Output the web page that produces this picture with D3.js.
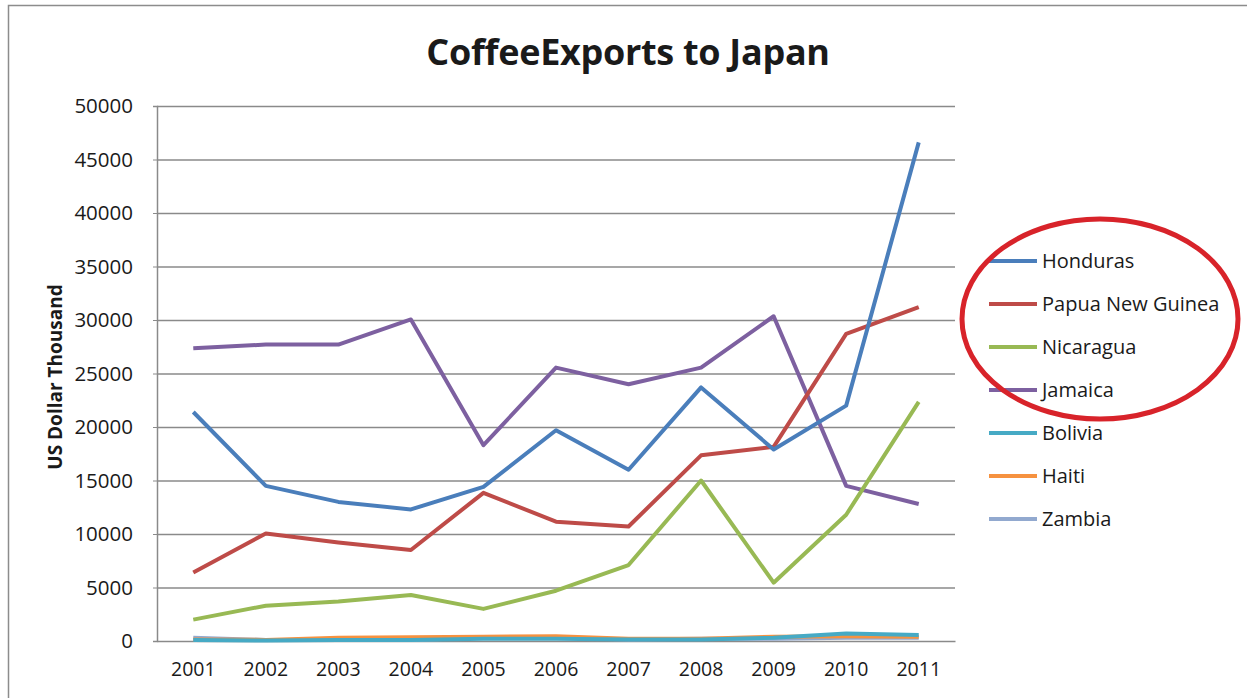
<!DOCTYPE html>
<html>
<head>
<meta charset="utf-8">
<script src="https://cdn.jsdelivr.net/npm/d3@7"></script>
<style>
  html, body { margin: 0; padding: 0; background: #fff; }
  svg { display: block; }
  text { font-family: "Open Sans", "DejaVu Sans", sans-serif; fill: #1a1a1a; }
</style>
</head>
<body>
<svg id="chart" width="1247" height="698"></svg>
<script>
const years = ["2001","2002","2003","2004","2005","2006","2007","2008","2009","2010","2011"];
const yTicks = [0, 5000, 10000, 15000, 20000, 25000, 30000, 35000, 40000, 45000, 50000];
const seriesNames = ["Honduras","Papua New Guinea","Nicaragua","Jamaica","Bolivia","Haiti","Zambia"];
const seriesColors = ["#4A7EBB","#BE4B48","#98B954","#7D60A0","#46AAC5","#F69240","#92A9CF"];
const honduras  = [21400, 14500, 13000, 12300, 14400, 19700, 16000, 23700, 17900, 22000, 46600];
const papua     = [6400, 10050, 9200, 8500, 13850, 11150, 10700, 17350, 18150, 28700, 31200];
const nicaragua = [2000, 3300, 3700, 4300, 3000, 4700, 7100, 15000, 5450, 11800, 22350];
const jamaica   = [27350, 27700, 27700, 30050, 18300, 25550, 24000, 25550, 30350, 14500, 12800];
const bolivia   = [100, 50, 100, 100, 200, 200, 150, 150, 300, 700, 550];
const haiti     = [150, 100, 300, 350, 400, 450, 200, 200, 400, 450, 400];
const zambia    = [300, 100, 100, 100, 300, 300, 150, 200, 200, 300, 300];
const seriesValues = [honduras, papua, nicaragua, jamaica, bolivia, haiti, zambia];

const svg = d3.select("#chart");
const plot = {left: 157, right: 955, top: 106, bottom: 641};

// outer frame
svg.append("rect").attr("x", 8.5).attr("y", 5.5).attr("width", 1250).attr("height", 700)
  .attr("fill", "none").attr("stroke", "#8c8c8c").attr("stroke-width", 1.5);

const x = d3.scaleBand().domain(years).range([plot.left, plot.right]);
const y = d3.scaleLinear().domain([0, 50000]).range([plot.bottom, plot.top]);

// gridlines
svg.append("g").selectAll("line").data(yTicks.filter(d => d > 0)).join("line")
  .attr("x1", plot.left).attr("x2", plot.right)
  .attr("y1", d => y(d) + 0.5).attr("y2", d => y(d) + 0.5)
  .attr("stroke", "#8a8a8a").attr("stroke-width", 1.5);

// y axis
const yAxis = svg.append("g").attr("transform", `translate(${plot.left},0)`)
  .call(d3.axisLeft(y).tickValues(yTicks).tickFormat(d3.format("d")).tickSize(4).tickPadding(20));
yAxis.select(".domain").attr("stroke", "#8a8a8a").attr("stroke-width", 1.5);
yAxis.selectAll(".tick line").attr("stroke", "#8a8a8a");
yAxis.selectAll("text").attr("font-size", 20.5).attr("fill", "#1a1a1a")
  .style("font-family", "'Open Sans', sans-serif");

// x axis
const xAxis = svg.append("g").attr("transform", `translate(0,${plot.bottom})`)
  .call(d3.axisBottom(x).tickSize(0).tickPadding(21));
xAxis.select(".domain").attr("stroke", "#8a8a8a").attr("stroke-width", 1.5);
xAxis.selectAll("text").attr("font-size", 19.5).attr("fill", "#1a1a1a")
  .style("font-family", "'Open Sans', sans-serif");

// lines
const line = d3.line().x((d, i) => x(years[i]) + x.bandwidth() / 2).y(d => y(d));
const order = [6, 5, 4, 3, 2, 1, 0];
svg.append("g").selectAll("path").data(order).join("path")
  .attr("d", i => line(seriesValues[i]))
  .attr("fill", "none")
  .attr("stroke", i => seriesColors[i])
  .attr("stroke-width", 4)
  .attr("stroke-linejoin", "round");

// title
svg.append("text").attr("x", 628).attr("y", 65).attr("text-anchor", "middle")
  .attr("font-size", 36).attr("font-weight", "bold").attr("fill", "#000")
  .style("letter-spacing", "-0.3px")
  .text("CoffeeExports to Japan");

// y title
svg.append("text").attr("transform", "translate(62,377) rotate(-90)")
  .attr("text-anchor", "middle").attr("font-size", 19).attr("font-weight", "bold").attr("fill", "#000")
  .text("US Dollar Thousand");

// legend
const legend = svg.append("g").selectAll("g").data(seriesNames).join("g")
  .attr("transform", (d, i) => `translate(989,${261 + i * 43})`);
legend.append("line").attr("x1", 0).attr("x2", 48).attr("y1", 0).attr("y2", 0)
  .attr("stroke", (d, i) => seriesColors[i]).attr("stroke-width", 4);
legend.append("text").attr("x", 53).attr("y", 7).attr("font-size", 20).attr("fill", "#1a1a1a")
  .text(d => d);

// annotation ellipse
svg.append("ellipse").attr("cx", 1100).attr("cy", 319).attr("rx", 138).attr("ry", 100)
  .attr("fill", "none").attr("stroke", "#D8232A").attr("stroke-width", 5);
</script>
</body>
</html>
